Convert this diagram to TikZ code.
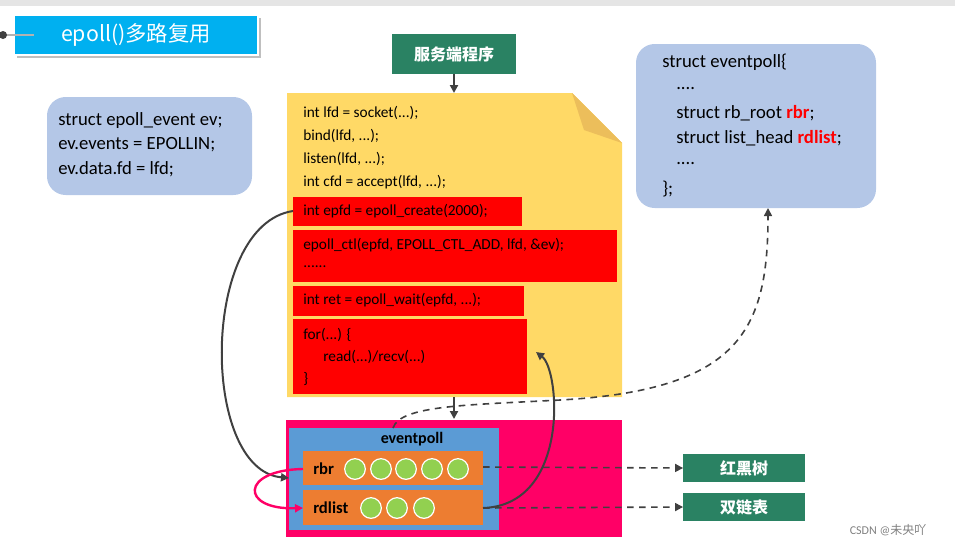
\documentclass[tikz,border=0pt]{standalone}
\usepackage{fontspec}
\setmainfont{Carlito}
\newfontfamily\cjk{Noto Sans CJK SC}
\usetikzlibrary{arrows.meta}
\definecolor{ttl}{HTML}{00B0F0}
\definecolor{grn}{HTML}{2A8263}
\definecolor{yel}{HTML}{FFD966}
\definecolor{lbl}{HTML}{B4C7E7}
\definecolor{pnk}{HTML}{FF0066}
\definecolor{blu}{HTML}{5B9BD5}
\definecolor{org}{HTML}{ED7D31}
\definecolor{cir}{HTML}{92D050}
\definecolor{dk}{HTML}{404040}
\begin{document}
\begin{tikzpicture}[x=0.75pt,y=-0.75pt,
  code/.style={anchor=west,font=\fontsize{11.5}{14}\selectfont,inner sep=0pt},
  redb/.style={fill=red,draw=none},
  gbox/.style={fill=grn,text=white,font=\cjk\bfseries\fontsize{12}{14}\selectfont,minimum height=21pt,inner sep=0pt},
  circ/.style={circle,fill=cir,draw=white,line width=0.9pt,minimum size=15.5pt,inner sep=0pt},
  arr/.style={draw=dk,line width=1.5pt,-{Triangle[length=6pt,width=6pt]}},
  darr/.style={draw=dk,line width=1.2pt,dash pattern=on 5pt off 4pt,-{Triangle[length=6pt,width=6pt]}},
  bl/.style={fill=lbl,rounded corners=14pt},
  btxt/.style={anchor=west,font=\fontsize{14}{17}\selectfont,inner sep=0pt}]
\useasboundingbox (0,0) rectangle (955,547);
\fill[gray!20] (0,0) rectangle (955,6);
% title
\fill[gray!50] (17,18) rectangle (261,58);
\node[fill=ttl,draw=white,line width=1pt,minimum width=183pt,minimum height=30pt,text=white,font=\cjk\fontsize{16}{18}\selectfont,inner sep=0pt] (title) at (136,35) {epoll()多路复用};
\draw[gray!60,line width=2pt] (2,35) -- (34,35);
\fill[dk] (3,35) circle (3pt);
% server
\node[gbox,minimum width=93pt,minimum height=30pt] (srv) at (454,54) {服务端程序};
% doc
\fill[yel] (287,93) -- (572,93) -- (622,143) -- (622,397) -- (287,397) -- cycle;
\fill[yel!70!brown] (572,93) -- (622,143) -- (584,130) -- cycle;
\coordinate (docT) at (454,93);
\coordinate (docB) at (454,397);
\draw[arr] (srv.south) -- (docT);
\node[code] (l1) at (303,113) {int lfd = socket(...);};
\node[code] (l2) at (303,136) {bind(lfd, ...);};
\node[code] (l3) at (303,159) {listen(lfd, ...);};
\node[code] (l4) at (303,182) {int cfd = accept(lfd, ...);};
\fill[redb] (293,197) rectangle (522,226);
\fill[redb] (293,230) rectangle (617,282);
\fill[redb] (293,286) rectangle (524,316);
\fill[redb] (293,319) rectangle (527,394);
\node[code] (r1) at (303,211) {int epfd = epoll\_create(2000);};
\node[code] (r2) at (303,245) {epoll\_ctl(epfd, EPOLL\_CTL\_ADD, lfd, \&ev);};
\node[code] (r3) at (303,267) {......};
\node[code] (r4) at (303,300) {int ret = epoll\_wait(epfd, ...);};
\node[code] (r5) at (303,335) {for(...) \{};
\node[code] (r6) at (323,357) {read(...)/recv(...)};
\node[code] (r7) at (303,379) {\}};
\coordinate (r1L) at (293,211);
\coordinate (r5R) at (536,352);
% bottom structure
\fill[pnk] (286,420) rectangle (622,537);
\coordinate (pkT) at (454,419);
\draw[arr] (docB) -- (pkT);
\fill[blu] (289,428) rectangle (499,530);
\node[font=\bfseries\fontsize{12}{14}\selectfont] (ep) at (412,439) {eventpoll};
\fill[org] (303,451) rectangle (483,485);
\fill[org] (303,490) rectangle (483,525);
\node[btxt,font=\bfseries\fontsize{12.5}{14}\selectfont] (rbr) at (313,469) {rbr};
\node[btxt,font=\bfseries\fontsize{12.5}{14}\selectfont] (rdl) at (313,508) {rdlist};
\foreach \x/\n in {355/a,381/b,406/c,432/d,458/e} \node[circ] (c\n) at (\x,469) {};
\foreach \x/\n in {371/f,397/g,424/h} \node[circ] (c\n) at (\x,508) {};
\node[gbox,minimum width=91pt] (hh) at (744,468) {红黑树};
\node[gbox,minimum width=91pt] (sl) at (744,507) {双链表};
\coordinate (rbrR) at (483,467);
\coordinate (rdlR) at (483,508);
\coordinate (rbrL) at (303,469);
\coordinate (rdlL) at (303,508);
\coordinate (blT) at (393,428);
\coordinate (blL) at (289,478);
\draw[darr] (rbrR) -- (hh.west);
\draw[darr] (rdlR) -- (sl.west);
% left box
\fill[bl] (47,97) rectangle (252,195);
\node[btxt] (e1) at (58,121) {struct epoll\_event ev;};
\node[btxt] (e2) at (58,145) {ev.events = EPOLLIN;};
\node[btxt] (e3) at (58,169) {ev.data.fd = lfd;};
% right box
\fill[bl] (636,44) rectangle (876,208);
\node[btxt] (s1) at (662,62) {struct eventpoll\{};
\node[btxt] (s2) at (676,89) {....};
\node[btxt] (s3) at (676,113) {struct rb\_root \textcolor{red}{\bfseries rbr};};
\node[btxt] (s4) at (676,138) {struct list\_head \textcolor{red}{\bfseries rdlist};};
\node[btxt] (s5) at (676,164) {....};
\node[btxt] (s6) at (662,189) {\};};
\coordinate (sbB) at (768,208);
% curves
\draw[arr] (r1L) .. controls (200,225) and (200,470) .. (blL);
\draw[arr] (rdlR) .. controls (570,505) and (560,370) .. (r5R);
\draw[draw=pnk,line width=1.8pt,-{Triangle[length=6pt,width=6pt]}] (rbrL) .. controls (240,470) and (240,510) .. (rdlL);
\draw[darr] (blT) .. controls (400,405) and (470,405) .. (560,400) .. controls (740,390) and (768,330) .. (sbB);
\node[text=gray,font=\fontsize{9}{11}\selectfont] (wm) at (888,530) {CSDN @{\cjk 未央吖}};
\end{tikzpicture}
\end{document}
